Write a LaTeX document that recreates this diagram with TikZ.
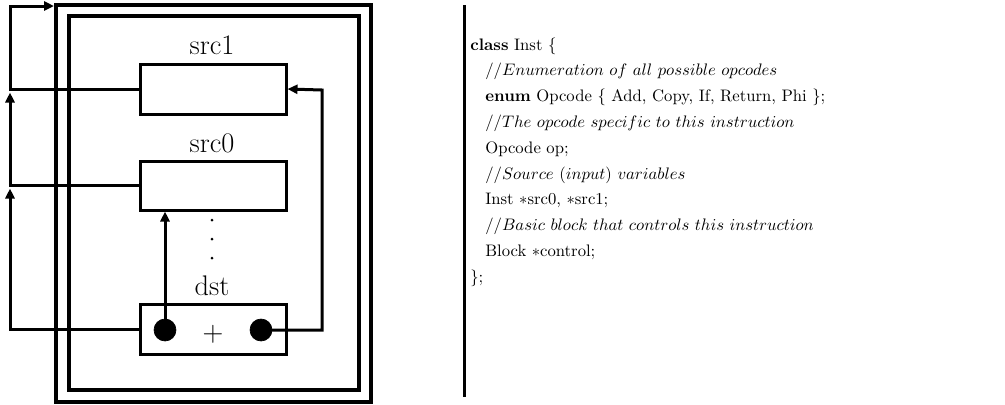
\documentclass[tikz,border=0pt]{standalone}
\usetikzlibrary{arrows.meta}

\tikzset{
  x=0.6pt, y=-0.6pt,
  frame/.style={draw, line width=2.1pt, inner sep=0pt, outer sep=0pt},
  regbox/.style={draw, line width=1.8pt, rectangle, inner sep=0pt,
                 minimum width=87.6pt, minimum height=30pt},
  dot/.style={circle, fill, draw, inner sep=0pt, minimum size=13.2pt},
  conn/.style={line width=1.8pt},
  arr/.style={conn, -{Triangle[length=6pt,width=5.4pt]}},
  lbl/.style={anchor=base, inner sep=0pt, font=\fontsize{17}{20}\selectfont},
  code/.style={anchor=base west, inner sep=0pt, font=\fontsize{10}{12}\selectfont},
}

\begin{document}
\begin{tikzpicture}
  \useasboundingbox (0,0) rectangle (1005,404);

  % nested instruction frames
  \node[frame, minimum width=189pt, minimum height=238.2pt] (outer) at (213.5,203.5) {};
  \node[frame, minimum width=174pt, minimum height=224.4pt] (inner) at (214,203) {};

  % operand and destination slots
  \node[regbox] (src1) at (213,89) {};
  \node[regbox, minimum height=29.4pt] (src0) at (213,185.5) {};
  \node[regbox] (dst) at (213,329) {};

  \node[lbl] (lsrc1) at (212,54) {src1};
  \node[lbl] (lsrc0) at (212,152) {src0};
  \node[lbl] (ldst) at (212,295) {dst};
  \node[inner sep=0pt, font=\fontsize{17}{20}\selectfont] (plus) at (213,334) {$+$};

  \node[dot] (ldot) at (165,330) {};
  \node[dot] (rdot) at (261,330) {};

  % vertical ellipsis
  \foreach \yy in {220,239,258} \fill (212,\yy) circle (0.9pt);

  % junction points on the left bus
  \coordinate (j0) at (10,188.5);
  \coordinate (j1) at (10,92.5);
  \coordinate (ltop) at (10,6);
  \coordinate (tip) at (54,6);
  \coordinate (rturn) at (322,90);

  % use-def connectors
  \draw[arr] (dst.west) -| (j0);
  \draw[arr] (src0.west) -| (j1);
  \draw[arr] (src1.west) -| (ltop) -- (tip);
  \draw[arr] (ldot.center) -- (src0.south -| ldot);
  \draw[arr] (rdot.center) -| (rturn) -- (src1.east);

  % separator
  \coordinate (septop) at (464,5);
  \coordinate (sepbot) at (464,397);
  \draw[conn] (septop) -- (sepbot);

  % class declaration
  \node[code] (c1) at (470,50) {\textbf{class} Inst \{};
  \node[code] (c2) at (485,75.8) {$//Enumeration\ of\ all\ possible\ opcodes$};
  \node[code] (c3) at (485,101.6) {\textbf{enum} Opcode \{ Add, Copy, If, Return, Phi \};};
  \node[code] (c4) at (485,127.4) {$//The\ opcode\ specific\ to\ this\ instruction$};
  \node[code] (c5) at (485,153.2) {Opcode op;};
  \node[code] (c6) at (485,179) {$//Source\ (input)\ variables$};
  \node[code] (c7) at (485,204.8) {Inst $*$src0, $*$src1;};
  \node[code] (c8) at (485,230.6) {$//Basic\ block\ that\ controls\ this\ instruction$};
  \node[code] (c9) at (485,256.4) {Block $*$control;};
  \node[code] (c10) at (470,282.2) {\};};
\end{tikzpicture}
\end{document}
